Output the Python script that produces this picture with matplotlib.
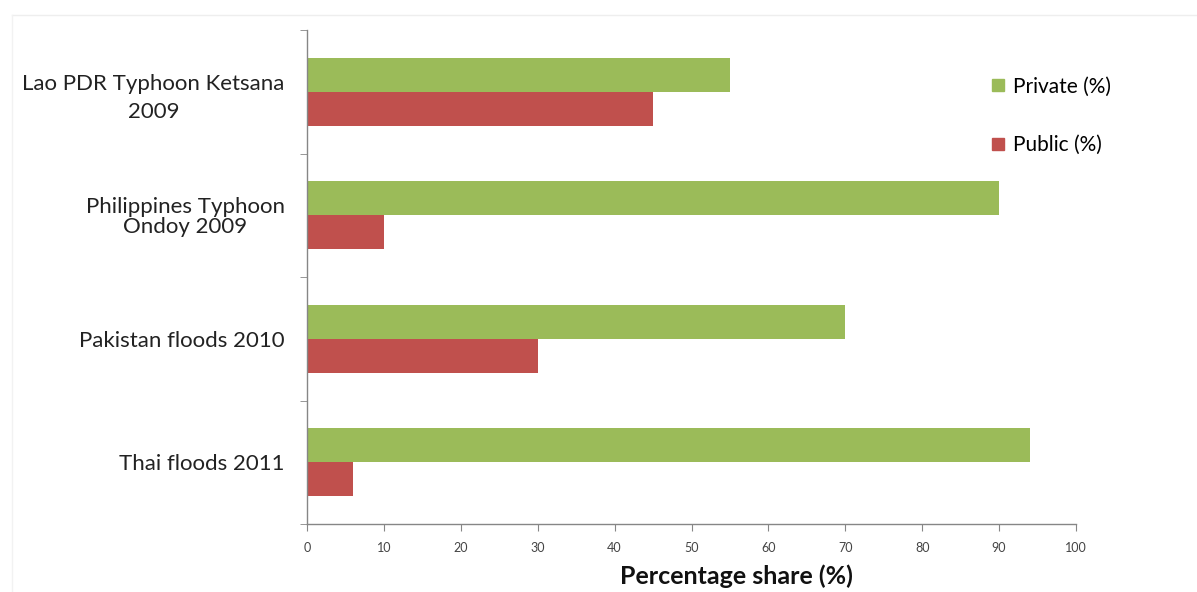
import numpy as np
import matplotlib.pyplot as plt
from matplotlib.lines import Line2D

events = ['Lao PDR Typhoon Ketsana\n2009', 'Philippines Typhoon\nOndoy 2009',
          'Pakistan floods 2010', 'Thai floods 2011']
private = [55, 90, 70, 94]
public = [45, 10, 30, 6]

green = '#9bbb59'
red = '#c0504d'
axis_gray = '#868686'

plt.rcParams['font.family'] = ['Lato', 'DejaVu Sans']

fig = plt.figure(figsize=(11.97, 5.92), dpi=100)
ax = fig.add_axes([307 / 1197, 1 - 524 / 592, 769 / 1197, 494 / 592])

y = np.arange(len(events))
h = 0.275
ax.barh(y - h / 2, private, height=h, color=green, label='Private (%)')
ax.barh(y + h / 2, public, height=h, color=red, label='Public (%)')

ax.set_xlim(0, 100)
ax.set_ylim(len(events) - 0.5, -0.5)
ax.set_xticks(np.arange(0, 101, 10))
ax.set_yticks(y)
ax.set_yticklabels(events, fontsize=16, color='#222222', multialignment='center')
labs = ax.get_yticklabels()
labs[0].set_linespacing(1.5)
labs[1].set_linespacing(1.0)
ax.set_yticks(np.arange(-0.5, len(events), 1), minor=True)
ax.tick_params(axis='y', which='major', length=0, pad=16)
ax.tick_params(axis='y', which='minor', length=5, color=axis_gray)
ax.tick_params(axis='x', length=5, color=axis_gray, labelsize=9,
               labelcolor='#444444', pad=8)

for s in ['top', 'right']:
    ax.spines[s].set_visible(False)
for s in ['left', 'bottom']:
    ax.spines[s].set_color(axis_gray)
    ax.spines[s].set_linewidth(1.0)

fig.text(736 / 1197, 1 - 576 / 592, 'Percentage share (%)', ha='center', va='center',
         fontsize=18, fontweight='bold', color='#111111')

handles = [Line2D([], [], marker='s', linestyle='none', markersize=8, color=green),
           Line2D([], [], marker='s', linestyle='none', markersize=8, color=red)]
fig.legend(handles, ['Private (%)', 'Public (%)'], loc='upper left',
           bbox_to_anchor=(970 / 1197, 1 - 58 / 592), frameon=False,
           fontsize=15, labelspacing=1.85, handletextpad=0.25, handlelength=0.9)

# faint frame of the original picture
fig.add_artist(Line2D([12 / 1197, 1], [1 - 15 / 592, 1 - 15 / 592], color='#eeeeee', lw=1))
fig.add_artist(Line2D([12 / 1197, 12 / 1197], [0, 1 - 15 / 592], color='#f2f2f2', lw=1))

fig.savefig('out.png', dpi=100)
